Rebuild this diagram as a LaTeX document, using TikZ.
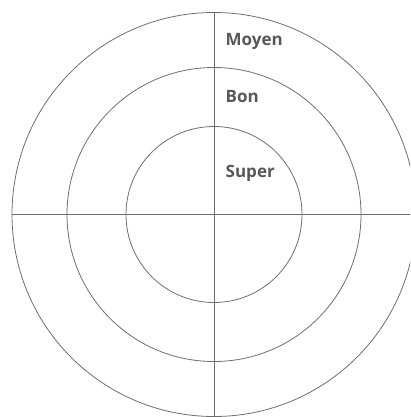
\documentclass[tikz,border=0pt]{standalone}
\usepackage{fontspec}
\setmainfont{Open Sans}
\definecolor{trait}{RGB}{110,110,110}
\definecolor{texte}{RGB}{88,88,88}
\begin{document}
\begin{tikzpicture}[x=1pt,y=-1pt,
  cible/.style={draw=trait, line width=0.8pt},
  niveau/.style={anchor=base west, inner sep=0pt, text=texte, font=\fontsize{17}{20}\selectfont\bfseries}]

\useasboundingbox (0,0) rectangle (410,417);
\clip (0,0) rectangle (410,417);

\coordinate (C) at (214,214.5);

% Cercles
	\foreach \r in {88, 147, 202}
		\draw[cible] (C) circle[radius=\r];

% Axes
\coordinate (G) at (12,214.5);
\coordinate (D) at (416,214.5);
\coordinate (H) at (214,12.5);
\coordinate (B) at (214,420);
	\draw[cible] (G) -- (D);
	\draw[cible] (H) -- (B);

% Niveaux
\node[niveau] (moyen) at (225.5,46) {Moyen};
\node[niveau] (bon) at (225.5,102.5) {Bon};
\node[niveau] (super) at (225.5,177.5) {Super};
\end{tikzpicture}
\end{document}
